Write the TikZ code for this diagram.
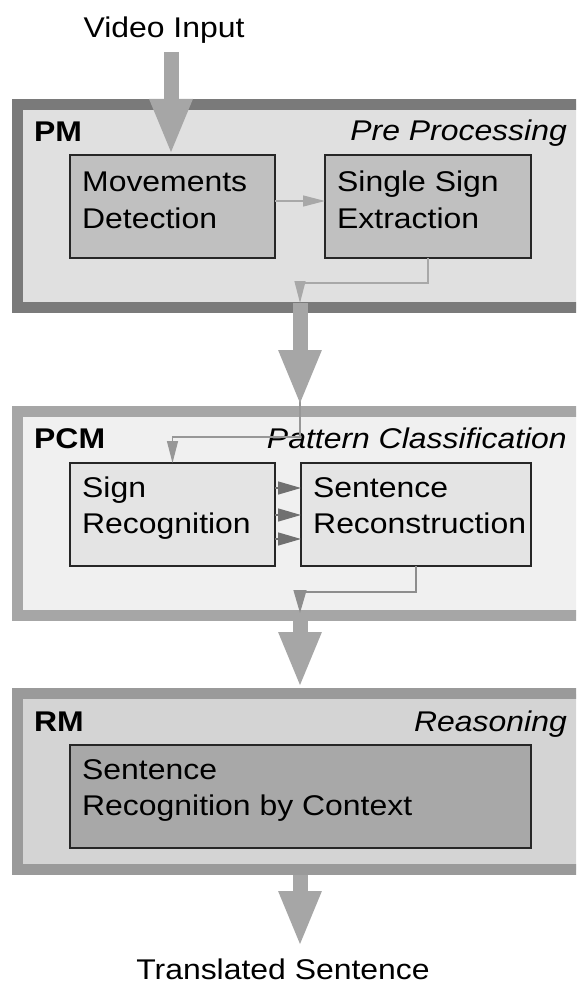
\documentclass[tikz,border=0pt]{standalone}
\usepackage{fontspec}
\setmainfont[FakeStretch=1.12]{Liberation Sans}
\usetikzlibrary{arrows.meta}

\definecolor{pmedge}{HTML}{7A7A7A}
\definecolor{pmfill}{HTML}{E0E0E0}
\definecolor{pcmedge}{HTML}{A6A6A6}
\definecolor{pcmfill}{HTML}{F0F0F0}
\definecolor{rmedge}{HTML}{9A9A9A}
\definecolor{rmfill}{HTML}{D4D4D4}
\definecolor{pmbox}{HTML}{C0C0C0}
\definecolor{pcmbox}{HTML}{E4E4E4}
\definecolor{rmbox}{HTML}{A8A8A8}
\definecolor{flow}{HTML}{A6A6A6}
\definecolor{lightlink}{HTML}{A8A8A8}
\definecolor{darklink}{HTML}{707070}

\begin{document}
\begin{tikzpicture}[x=1pt, y=-1pt,
  font=\fontsize{28.5}{36}\selectfont,
  module/.style={draw, rectangle, line width=11pt, anchor=north west,
    minimum width=640pt, inner sep=0pt},
  stage/.style={draw=black!85, rectangle, line width=1.2pt, anchor=north west,
    minimum height=103pt, inner sep=0pt, outer sep=0pt},
  txt/.style={anchor=base west, inner sep=0pt},
  tag/.style={anchor=base west, inner sep=0pt, font=\fontsize{28.5}{36}\selectfont\bfseries},
  title/.style={anchor=base east, inner sep=0pt, font=\fontsize{28.5}{36}\selectfont\itshape},
  bigflow/.style={draw=flow, line width=15pt,
    -{Triangle[length=56pt, width=39pt]}},
  lightarrow/.style={draw=lightlink, line width=1.3pt,
    -{Triangle[length=22pt, width=11pt]}},
  darkarrow/.style={draw=darklink, line width=1.3pt,
    -{Triangle[length=23pt, width=13pt]}},
]
\useasboundingbox (0,0) rectangle (576,987);
\clip (0,0) rectangle (576,987);

% module frames
\node[module, draw=pmedge, fill=pmfill, minimum height=203pt] (pm) at (12,99) {};
\node[module, draw=pcmedge, fill=pcmfill, minimum height=204pt] (pcm) at (12,406) {};
\node[module, draw=rmedge, fill=rmfill, minimum height=176pt] (rm) at (12,688) {};

% module tags and titles
\node[tag] (pmtag) at (34,142) {PM};
\node[title] (pmtitle) at (567,141) {Pre Processing};
\node[tag] (pcmtag) at (34,448) {PCM};
\node[title] (pcmtitle) at (567,448) {Pattern Classification};
\node[tag] (rmtag) at (34,731) {RM};
\node[title] (rmtitle) at (567,731) {Reasoning};

% processing stages
\node[stage, fill=pmbox, minimum width=205pt] (mov) at (70,155) {};
\node[stage, fill=pmbox, minimum width=206pt] (sse) at (325,155) {};
\node[stage, fill=pcmbox, minimum width=205pt] (sr) at (70,463) {};
\node[stage, fill=pcmbox, minimum width=230pt] (sc) at (301,463) {};
\node[stage, fill=rmbox, minimum width=461pt] (ctx) at (70,745) {};

\node[txt] (movt) at (82,192) {\begin{tabular}[t]{@{}l@{}}Movements\\Detection\end{tabular}};
\node[txt] (sset) at (337,192) {\begin{tabular}[t]{@{}l@{}}Single Sign\\Extraction\end{tabular}};
\node[txt] (srt) at (82,497) {\begin{tabular}[t]{@{}l@{}}Sign\\Recognition\end{tabular}};
\node[txt] (sct) at (313,497) {\begin{tabular}[t]{@{}l@{}}Sentence\\Reconstruction\end{tabular}};
\node[txt] (ctxt) at (82,779) {\begin{tabular}[t]{@{}l@{}}Sentence\\Recognition by Context\end{tabular}};

% outer labels
\node[anchor=base, inner sep=0pt] (vin) at (164,38) {Video Input};
\node[anchor=base, inner sep=0pt] (vout) at (283,979) {Translated Sentence};

% junction points
\coordinate (vstart) at (171,52);
\coordinate (pmout) at (300,303);
\coordinate (pcmout) at (300,613);
\coordinate (tsend) at (300,947);

% links inside the modules
\draw[lightarrow] (mov.east |- 0,201) -- (sse.west |- 0,201);
\draw[lightarrow] (sse.south) -- ++(0,25) -| (pmout);
\draw[lightarrow, draw=lightlink!90!black] (pmout) -- (300,437) -| (sr.north);
\draw[darkarrow] (sr.east |- 0,488) -- (sc.west |- 0,488);
\draw[darkarrow] (sr.east |- 0,515) -- (sc.west |- 0,515);
\draw[darkarrow] (sr.east |- 0,539) -- (sc.west |- 0,539);
\draw[darkarrow, draw=darklink!80!white] (sc.south) -- ++(0,26) -| (pcmout);

% main flow between modules
\draw[bigflow] (vstart) -- (vstart |- mov.north);
\draw[bigflow] (pmout) -- (pmout |- pcm.north);
\draw[bigflow] (pcmout |- pcm.south) -- (pcmout |- rm.north);
\draw[bigflow] (tsend |- rm.south) -- (tsend);
\end{tikzpicture}
\end{document}
